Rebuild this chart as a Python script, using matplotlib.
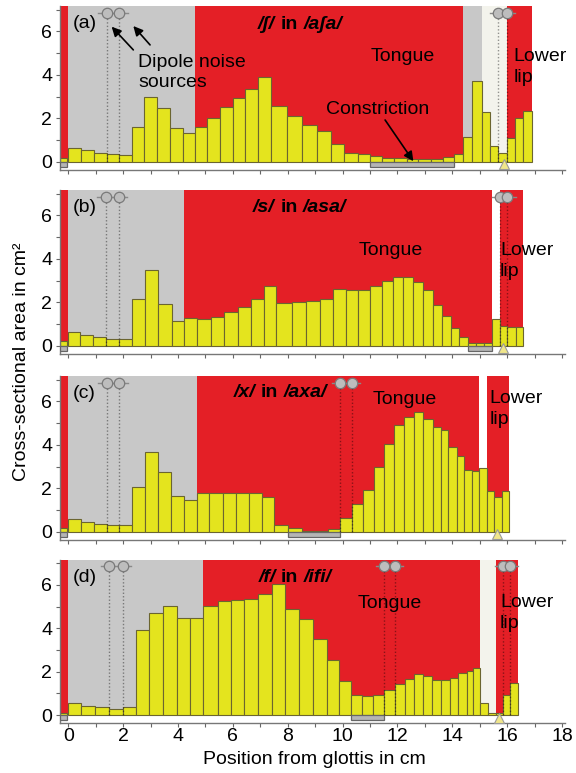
import numpy as np
import matplotlib
matplotlib.use("Agg")
import matplotlib.pyplot as plt
from matplotlib.patches import Rectangle

plt.rcParams['font.family'] = ['Liberation Sans', 'DejaVu Sans']
plt.rcParams['font.size'] = 14

# tube section edges (cm from glottis) and cross-sectional areas (cm^2)
edges_a = [0.00, 0.46, 0.94, 1.40, 1.86, 2.33, 2.77, 3.24, 3.71, 4.17, 4.62, 5.07, 5.53,
           5.99, 6.46, 6.93, 7.39, 7.96, 8.53, 9.05, 9.57, 10.06, 10.55, 11.00, 11.45,
           11.88, 12.33, 12.76, 13.22, 13.67, 14.07, 14.40, 14.73, 15.07, 15.37, 15.67,
           15.98, 16.28, 16.59, 16.89]
area_a = [0.64, 0.53, 0.39, 0.33, 0.30, 1.62, 3.00, 2.45, 1.55, 1.32, 1.60, 2.03, 2.50,
          2.95, 3.36, 3.92, 2.58, 2.10, 1.70, 1.40, 0.82, 0.41, 0.35, 0.28, 0.18, 0.15,
          0.12, 0.12, 0.14, 0.23, 0.35, 1.14, 3.70, 2.27, 0.74, 0.38, 1.09, 2.00, 2.35]

edges_b = [0.00, 0.43, 0.91, 1.36, 1.85, 2.33, 2.79, 3.28, 3.77, 4.23, 4.71, 5.20, 5.69,
           6.17, 6.66, 7.14, 7.59, 8.14, 8.65, 9.17, 9.66, 10.12, 10.57, 11.00, 11.42,
           11.82, 12.21, 12.58, 12.94, 13.30, 13.63, 13.95, 14.25, 14.56, 14.85, 15.14,
           15.43, 15.73, 16.01, 16.31, 16.59]
area_b = [0.61, 0.47, 0.38, 0.31, 0.31, 2.16, 3.49, 1.91, 1.15, 1.26, 1.24, 1.30, 1.53,
          1.76, 2.14, 2.73, 1.96, 2.00, 2.07, 2.17, 2.60, 2.56, 2.56, 2.73, 3.00, 3.14,
          3.14, 2.91, 2.56, 1.88, 1.35, 0.81, 0.40, 0.10, 0.10, 0.12, 1.22, 0.89, 0.84, 0.84]

edges_c = [0.00, 0.46, 0.95, 1.40, 1.86, 2.33, 2.79, 3.28, 3.74, 4.22, 4.68, 5.14, 5.63,
           6.11, 6.59, 7.05, 7.50, 8.00, 8.51, 8.99, 9.45, 9.90, 10.33, 10.75, 11.14,
           11.52, 11.88, 12.25, 12.61, 12.94, 13.28, 13.58, 13.85, 14.16, 14.43, 14.70,
           14.98, 15.25, 15.53, 15.80, 16.06]
area_c = [0.58, 0.46, 0.37, 0.29, 0.29, 2.05, 3.69, 2.77, 1.66, 1.46, 1.77, 1.77, 1.78,
          1.77, 1.77, 1.60, 0.31, 0.17, 0.05, 0.05, 0.14, 0.65, 1.26, 1.92, 3.00, 4.05,
          4.92, 5.28, 5.51, 5.20, 4.82, 4.66, 3.89, 3.49, 2.82, 2.80, 2.95, 1.89, 1.58, 1.89]

edges_d = [0.00, 0.46, 0.97, 1.49, 1.98, 2.47, 2.95, 3.46, 3.95, 4.43, 4.92, 5.44, 5.93,
           6.42, 6.93, 7.41, 7.90, 8.42, 8.93, 9.42, 9.88, 10.30, 10.72, 11.12, 11.52,
           11.91, 12.27, 12.61, 12.94, 13.27, 13.58, 13.91, 14.22, 14.52, 14.76, 15.02,
           15.31, 15.58, 15.86, 16.11, 16.38]
area_d = [0.57, 0.44, 0.37, 0.29, 0.38, 3.94, 4.71, 5.03, 4.48, 4.48, 5.03, 5.24, 5.31,
          5.34, 5.58, 6.04, 4.88, 4.43, 3.52, 2.55, 1.58, 0.92, 0.89, 0.92, 1.15, 1.44,
          1.68, 1.87, 1.80, 1.62, 1.62, 1.73, 1.94, 2.05, 2.19, 0.56, 0.08, 0.08, 0.94, 1.48]

glottis_area = [0.18, 0.20, 0.15, 0.10]

# articulator regions along the tract: (start cm, end cm, kind)
regions_a = [(-0.3, 0.0, 'red'), (0.0, 4.62, 'gray'), (4.62, 14.40, 'red'),
             (14.40, 15.07, 'gray'), (15.07, 15.98, 'light'), (15.98, 16.89, 'red')]
regions_b = [(-0.3, 0.0, 'red'), (0.0, 4.23, 'gray'), (4.23, 15.43, 'red'),
             (15.43, 15.73, 'white'), (15.73, 16.59, 'red')]
regions_c = [(-0.3, 0.0, 'red'), (0.0, 4.68, 'gray'), (4.68, 14.98, 'red'),
             (14.98, 15.25, 'white'), (15.25, 16.06, 'red')]
regions_d = [(-0.3, 0.0, 'red'), (0.0, 4.92, 'gray'), (4.92, 15.02, 'red'),
             (15.02, 15.58, 'light'), (15.58, 16.38, 'red')]

# dipole noise source positions (cm)
sources_a = [(1.40, 1.86), (15.67, 15.98)]
sources_b = [(1.36, 1.85), (15.73, 16.01)]
sources_c = [(1.40, 1.86), (9.90, 10.33)]
sources_d = [(1.49, 1.98), (11.52, 11.91), (15.84, 16.11)]

constriction = [(11.00, 14.07), (14.56, 15.43), (8.00, 9.90), (10.30, 11.52)]
lip_marker = [15.89, 15.84, 15.62, 15.70]

labels = ['(a)', '(b)', '(c)', '(d)']
titles = [('/ʃ/', 'in', '/aʃa/'), ('/s/', 'in', '/asa/'),
          ('/x/', 'in', '/axa/'), ('/f/', 'in', '/ifi/')]
title_pos = [(6.92, 6.10), (6.74, 6.18), (6.02, 6.20), (6.93, 6.11)]
tongue_pos = [(12.20, 4.64), (11.76, 4.19), (12.28, 5.88), (11.72, 4.92)]
lip_pos = [(16.22, 5.22), (15.74, 4.76), (15.35, 6.52), (15.74, 5.56)]

xticks = list(range(0, 19, 2))
yticks = [0, 2, 4, 6]

colors = {'red': '#e41f26', 'gray': '#c8c8c8', 'light': '#f3f3ec', 'white': '#ffffff'}
YTOP = 7.15
YBOT = -0.38


def draw_panel(ax, i, edges, area, regions, sources):
    for start, end, kind in regions:
        ax.add_patch(Rectangle((start, 0), end - start, YTOP, facecolor=colors[kind],
                               lw=0, zorder=0))
    edges = np.array(edges)
    ax.bar(edges[:-1], area, width=np.diff(edges), align='edge', color='#e4e41e',
           edgecolor='#6b6530', linewidth=0.8, zorder=2)
    ax.bar(-0.3, glottis_area[i], width=0.27, align='edge', color='#e4e41e',
           edgecolor='#6b6530', linewidth=0.8, zorder=2)
    # glottis and constriction boxes below the baseline
    ax.add_patch(Rectangle((-0.3, -0.25), 0.27, 0.25, facecolor='#b5b5b5',
                           edgecolor='#666666', lw=0.9, zorder=3))
    c0, c1 = constriction[i]
    ax.add_patch(Rectangle((c0, -0.25), c1 - c0, 0.25, facecolor='#b5b5b5',
                           edgecolor='#666666', lw=0.9, zorder=3))
    ax.plot(lip_marker[i], -0.12, '^', ms=7, mfc='#f0e68a', mec='#9a9a9a', mew=0.8,
            zorder=4, clip_on=False)
    ys = 6.87
    for x1, x2 in sources:
        ax.vlines([x1, x2], 0, ys, colors='k', alpha=0.4, lw=1,
                  linestyles=(0, (1, 1.5)), zorder=3)
        ax.plot([x1 - 0.3, x2 + 0.3], [ys, ys], color='#8a8a8a', lw=1, zorder=4)
        ax.plot([x1, x2], [ys, ys], 'o', ms=7.5, mfc='#bdbdbd', mec='#7a7a7a',
                mew=0.9, zorder=5)

    ax.text(0.17, 6.15, labels[i], ha='left', va='baseline')
    ax.text(tongue_pos[i][0], tongue_pos[i][1], 'Tongue', ha='center', va='baseline')
    ax.text(lip_pos[i][0], lip_pos[i][1], 'Lower\nlip', ha='left', va='top',
            linespacing=1.3)

    ax.set_xlim(-0.3, 18.1)
    ax.set_ylim(YBOT, YTOP)
    for s in ['top', 'right']:
        ax.spines[s].set_visible(False)
    for s in ['left', 'bottom']:
        ax.spines[s].set_color('#777777')
        ax.spines[s].set_linewidth(1)
    ax.set_xticks(xticks)
    ax.set_xticks(range(1, 19, 2), minor=True)
    ax.set_yticks(yticks)
    ax.set_yticks([1, 3, 5, 7], minor=True)
    ax.tick_params(which='both', color='#666666', length=2.6, width=0.8)
    ax.tick_params(axis='x', pad=1)
    ax.tick_params(axis='y', pad=3)


def chained_title(fig, ax, i):
    x, y = title_pos[i]
    r = fig.canvas.get_renderer()
    styles = ['italic', 'normal', 'italic']
    gap = 5.4
    for part, st in zip(titles[i], styles):
        t = ax.text(x, y, part, ha='left', va='baseline', fontweight='bold',
                    fontstyle=st, zorder=6)
        bb = t.get_window_extent(renderer=r)
        x = ax.transData.inverted().transform((bb.x1 + gap, bb.y0))[0]


fig = plt.figure(figsize=(5.76, 7.73), dpi=100)
bottoms = [0.7802, 0.5422, 0.3016, 0.0643]
data = [(edges_a, area_a, regions_a, sources_a), (edges_b, area_b, regions_b, sources_b),
        (edges_c, area_c, regions_c, sources_c), (edges_d, area_d, regions_d, sources_d)]
axes = []
for i, (e, a, rg, sc) in enumerate(data):
    ax = fig.add_axes([0.1043, bottoms[i], 0.8762, 0.2114])
    draw_panel(ax, i, e, a, rg, sc)
    if i < 3:
        ax.set_xticklabels([])
    axes.append(ax)

fig.canvas.draw()
for i, ax in enumerate(axes):
    chained_title(fig, ax, i)

ax = axes[0]
ax.text(2.55, 4.96, 'Dipole noise\nsources', ha='left', va='top', linespacing=1.25)
arrow = dict(arrowstyle='-|>', color='k', lw=1.2, mutation_scale=14, shrinkA=0, shrinkB=0)
ax.annotate('', xy=(1.58, 6.22), xytext=(2.37, 5.15), arrowprops=arrow, zorder=6)
ax.annotate('', xy=(2.37, 6.25), xytext=(2.98, 5.38), arrowprops=arrow, zorder=6)
ax.text(11.27, 2.18, 'Constriction', ha='center', va='baseline')
ax.annotate('', xy=(12.58, 0.02), xytext=(11.55, 1.92), arrowprops=arrow, zorder=6)

fig.text(0.038, 0.532, 'Cross-sectional area in cm²', rotation=90, ha='center',
         va='center')
fig.text(0.545, 0.0116, 'Position from glottis in cm', ha='center', va='baseline')

fig.savefig('out.png', dpi=100)
